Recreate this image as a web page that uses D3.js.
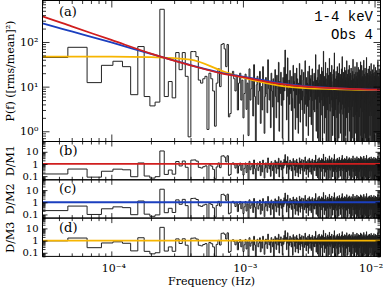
<!DOCTYPE html>
<html>
<head>
<meta charset="utf-8">
<script src="https://cdn.jsdelivr.net/npm/d3@7"></script>
<style>body{margin:0;background:#fff}</style>
</head>
<body>
<div class="container"></div>
<script>
// frequency resolution of the periodogram (Hz); first plotted bin is k = 2
const df = 1.87e-5;
const kStart = 2;

// periodogram, bins k = 2..54 (below 1e-3 Hz)
const powerLow = [45, 76, 12.3, 30, 37, 28, 6.6, 79, 6, 3.7, 4.5, 540, 6, 13, 5.6, 58, 24, 58, 17, 0.75,
  61, 61, 47, 14, 12, 15, 17, 1.1, 20, 15, 8, 1.3, 12, 25, 10, 88, 92, 70, 28, 88,
  2.1, 2.5, 18, 22, 15, 8, 18, 3, 12, 20, 5, 14, 2];
// bins k = 55..194
const powerMidA = [7, 19, 3.1, 12, 0.8, 25, 5, 9, 14, 2.2, 31, 6, 0.4, 11, 17, 4, 8, 22, 1.5, 10,
  3, 28, 13, 0.9, 6, 16, 7, 2.6, 40, 9, 5, 12, 1.2, 20, 8, 3.5, 15, 0.5, 11, 24,
  6, 2, 18, 9, 4.5, 35, 1, 13, 7, 21, 3.8, 10, 0.7, 16, 5, 27, 8, 66, 12, 19,
  1.8, 6, 44, 9, 0.3, 14, 4, 23, 7, 11, 2.9, 17, 5.5, 0.6, 30, 8, 13, 3.3, 20, 1.1,
  10, 6.5, 26, 2, 15, 9, 0.9, 12, 4.2, 33, 7, 1.6, 18, 11, 5, 24, 3, 8, 0.5, 14,
  21, 6, 2.5, 10, 38, 4, 9, 1.3, 16, 7, 12, 3.6, 22, 0.8, 11, 5, 29, 8, 2.1, 15,
  6, 18, 1.4, 10, 4.8, 25, 9, 0.4, 13, 7, 3, 20, 11, 2.7, 17, 5.2, 52, 8, 1, 14];
// bins k = 195..394
const powerMidB = [9, 3.2, 16, 0.7, 24, 6, 12, 0.4, 31, 8, 4.4, 14, 0.5, 19, 10, 2.3, 7, 27, 5, 11,
  0.3, 22, 8, 3.7, 62, 6, 13, 0.9, 17, 4, 9, 2, 35, 7, 15, 0.3, 11, 5.8, 20, 3,
  12, 26, 0.2, 8, 6, 18, 0.6, 10, 43, 4.1, 14, 2.8, 9, 21, 7, 0.4, 16, 5, 30, 11,
  3.4, 8, 0.8, 13, 19, 6, 2.2, 24, 9, 4.6, 57, 0.3, 12, 7, 15, 3, 10, 0.4, 22, 5.3,
  17, 8, 2, 11, 28, 6, 0.5, 14, 9, 3.9, 20, 0.7, 12, 7, 33, 4.5, 10, 2.5, 16, 5,
  0.9, 19, 8, 13, 3.1, 25, 6, 0.2, 11, 47, 9, 4, 15, 2.4, 7, 21, 0.5, 12, 5.6, 18,
  3.3, 10, 27, 0.3, 8, 14, 6, 0.8, 23, 9, 4.3, 16, 2, 11, 38, 5, 13, 0.5, 7, 19,
  0.6, 10, 3.5, 24, 8, 12, 2.6, 15, 6, 30, 1, 9, 17, 4.7, 11, 0.4, 20, 7, 13, 3,
  26, 5.1, 9, 0.2, 14, 8, 0.7, 18, 11, 3.6, 22, 6, 41, 2.1, 10, 15, 4.9, 8, 0.3, 12,
  19, 0.5, 7, 16, 3.2, 28, 9, 2.3, 13, 6, 0.9, 21, 10, 4.4, 17, 0.4, 11, 8, 35, 5];
// bins k = 395..594 (up to Nyquist)
const powerHigh = [8, 2.7, 15, 0.6, 21, 5, 11, 0.3, 27, 7, 3.8, 13, 0.4, 18, 9, 2.1, 6, 24, 4.6, 10,
  0.2, 19, 7, 3.3, 36, 5, 12, 0.8, 16, 3.6, 8, 0.4, 30, 6, 14, 0.3, 10, 5.2, 17, 2.7,
  11, 23, 0.3, 7, 5.5, 16, 0.5, 9, 39, 3.7, 13, 0.5, 8, 19, 6, 0.9, 14, 4.6, 26, 10,
  3.1, 7, 0.7, 12, 17, 5.4, 0.3, 21, 8, 4.1, 45, 0.2, 11, 6, 13, 2.7, 9, 0.4, 20, 4.8,
  15, 7, 0.4, 10, 25, 5.5, 0.4, 12, 8, 3.5, 18, 0.6, 11, 6, 29, 4, 9, 2.2, 14, 4.5,
  0.8, 17, 7, 12, 2.8, 22, 5.4, 0.3, 10, 33, 8, 3.6, 13, 2.2, 6, 19, 0.5, 11, 5, 16,
  3, 9, 24, 0.5, 7, 12, 5.3, 0.7, 20, 8, 3.9, 14, 0.4, 10, 31, 4.5, 12, 0.3, 6, 17,
  0.5, 9, 3.2, 21, 7, 11, 2.3, 13, 5.4, 27, 0.9, 8, 15, 4.2, 10, 0.4, 18, 6, 12, 2.7,
  23, 4.6, 8, 0.2, 12, 7, 0.6, 16, 10, 3.2, 20, 5.4, 37, 0.4, 9, 13, 4.4, 7, 0.2, 11,
  17, 0.5, 6, 14, 2.9, 25, 8, 0.3, 12, 5.5, 0.8, 19, 9, 3.9, 15, 0.3, 10, 7, 32, 4.5];

// model curves at these frequencies
const modelFreq = [2.5e-5, 3e-5, 5e-5, 1e-4, 2e-4, 4e-4, 7e-4, 1e-3, 1.5e-3, 2e-3, 3e-3, 5e-3, 1e-2, 1.2e-2];
const model1 = [440, 374, 223, 111, 55, 30, 19.6, 16.3, 13, 11.4, 10, 9.25, 8.56, 8.5];
const model2 = [300, 261, 172, 97.6, 54, 30.4, 20.1, 16.8, 13.6, 11.7, 10.3, 9.25, 8.56, 8.5];
const model3 = [47.2, 47.2, 47.2, 47.2, 46, 40.4, 22.3, 15.9, 12, 10.3, 9.25, 8.8, 8.35, 8.3];
const modelColors = ['#d01e1e', '#1b3fbf', '#f7b500'];
const ratioNames = ['D/M1', 'D/M2', 'D/M3'];
const panelTags = ['(a)', '(b)', '(c)', '(d)'];

const width = 385;
const height = 291;
const left = 42.5;
const right = 380.5;
const topA = 0.5;
const bottomA = 141.5;
const ratioH = 38.3;
const serif = '"DejaVu Serif", serif';

const power = powerLow.concat(powerMidA, powerMidB, powerHigh);
const freq = power.map((_, i) => (kStart + i) * df);
const edges = power.map((_, i) => (kStart + i - 0.5) * df)
  .concat([(kStart + power.length - 0.5) * df]);

const modelFn = (vals) => {
  const s = d3.scaleLog().domain(modelFreq).range(vals.map(Math.log10));
  return (f) => Math.pow(10, s(f));
};
const models = [model1, model2, model3].map(modelFn);

const x = d3.scaleLog().domain([3e-5, 0.0111]).range([left, right]);
const yA = d3.scaleLog().domain([0.59, 850]).range([bottomA, topA]);

const minorTicks = (lo, hi) => {
  const out = [];
  for (let e = -6; e <= 3; e++) {
    for (let m = 2; m <= 9; m++) {
      const v = m * Math.pow(10, e);
      if (v >= lo && v <= hi) out.push(v);
    }
  }
  return out;
};

const svg = d3.select('.container')
  .append('svg')
  .attr('width', width)
  .attr('height', height)
  .style('font-family', serif);

const xMajor = [1e-4, 1e-3, 1e-2];
const xMinor = minorTicks(3e-5, 0.0111);

function frameAxes(g, y, top, bottom, yMajor, yMinor, yFmt, majLen, minLen, fontSize) {
  const styleText = (sel) => sel.call((a) => a.select('.domain').remove())
    .attr('font-family', serif).attr('font-size', fontSize);
  g.append('g').attr('transform', `translate(${left},0)`)
    .call(d3.axisLeft(y).tickValues(yMajor).tickFormat(yFmt).tickSizeInner(-majLen).tickSizeOuter(0).tickPadding(4))
    .call(styleText);
  g.append('g').attr('transform', `translate(${left},0)`)
    .call(d3.axisLeft(y).tickValues(yMinor).tickFormat('').tickSizeInner(-minLen).tickSizeOuter(0))
    .call(styleText);
  g.append('g').attr('transform', `translate(${right},0)`)
    .call(d3.axisRight(y).tickValues(yMajor).tickFormat('').tickSizeInner(-majLen).tickSizeOuter(0))
    .call(styleText);
  g.append('g').attr('transform', `translate(${right},0)`)
    .call(d3.axisRight(y).tickValues(yMinor).tickFormat('').tickSizeInner(-minLen).tickSizeOuter(0))
    .call(styleText);
  [[top, d3.axisTop], [bottom, d3.axisBottom]].forEach(([yy, ax]) => {
    g.append('g').attr('transform', `translate(0,${yy})`)
      .call(ax(x).tickValues(xMajor).tickFormat('').tickSizeInner(-majLen).tickSizeOuter(0))
      .call(styleText);
    g.append('g').attr('transform', `translate(0,${yy})`)
      .call(ax(x).tickValues(xMinor).tickFormat('').tickSizeInner(-minLen).tickSizeOuter(0))
      .call(styleText);
  });
  g.selectAll('.tick line').attr('stroke', '#000').attr('stroke-width', 0.8);
  g.append('rect')
    .attr('x', left).attr('y', top)
    .attr('width', right - left).attr('height', bottom - top)
    .attr('fill', 'none').attr('stroke', '#000').attr('stroke-width', 1);
}

function clipFor(id, top, bottom) {
  svg.append('clipPath').attr('id', id)
    .append('rect').attr('x', left).attr('y', top)
    .attr('width', right - left).attr('height', bottom - top);
  return `url(#${id})`;
}

const stepLine = (y) => d3.line()
  .x((d) => x(d[0]))
  .y((d) => y(Math.max(d[1], 1e-3)))
  .curve(d3.curveStepAfter);

// ---- panel (a): periodogram and models
const pa = svg.append('g');
const plotA = pa.append('g').attr('clip-path', clipFor('clipA', topA, bottomA));
const stepsA = edges.map((e, i) => [e, power[Math.min(i, power.length - 1)]]);
plotA.append('path')
  .attr('d', stepLine(yA)(stepsA))
  .attr('fill', 'none').attr('stroke', '#222').attr('stroke-width', 1);

const curve = d3.line()
  .x((d) => x(d[0]))
  .y((d) => yA(d[1]))
  .curve(d3.curveMonotoneX);
[model3, model2, model1].forEach((vals, j) => {
  plotA.append('path')
    .attr('d', curve(modelFreq.map((f, i) => [f, vals[i]])))
    .attr('fill', 'none')
    .attr('stroke', modelColors[2 - j])
    .attr('stroke-width', 1.8);
});

const supA = { 1: '10\u2070', 10: '10\u00b9', 100: '10\u00b2' };
frameAxes(pa, yA, topA, bottomA, [1, 10, 100], minorTicks(0.59, 850), (d) => supA[d], 7, 3.5, 11);

pa.append('text').attr('x', 59).attr('y', 16).attr('font-size', 13).text(panelTags[0]);
pa.append('text').attr('x', 373).attr('y', 21).attr('text-anchor', 'end')
  .attr('font-family', '"Liberation Mono", monospace').attr('font-size', 14).text('1-4 keV');
pa.append('text').attr('x', 373).attr('y', 39).attr('text-anchor', 'end')
  .attr('font-family', '"Liberation Mono", monospace').attr('font-size', 14).text('Obs 4');
pa.append('text')
  .attr('transform', `translate(14,${(topA + bottomA) / 2}) rotate(-90)`)
  .attr('text-anchor', 'middle').attr('font-size', 11)
  .text('P(f) ([rms/mean]\u00b2)');

// ---- ratio panels (b)-(d)
const yRdomain = [0.05, 70];
const rFmt = (d) => (d === 0.1 ? '0.1' : String(d));
models.forEach((m, j) => {
  const top = bottomA + j * ratioH;
  const bottom = top + ratioH;
  const y = d3.scaleLog().domain(yRdomain).range([bottom, top]);
  const g = svg.append('g');
  const plot = g.append('g').attr('clip-path', clipFor(`clipR${j}`, top, bottom));
  const ratio = edges.map((e, i) => {
    const k = Math.min(i, power.length - 1);
    return [e, power[k] / m(freq[k])];
  });
  plot.append('path')
    .attr('d', stepLine(y)(ratio))
    .attr('fill', 'none').attr('stroke', '#222').attr('stroke-width', 1);
  plot.append('line')
    .attr('x1', left).attr('x2', right)
    .attr('y1', y(1)).attr('y2', y(1))
    .attr('stroke', modelColors[j]).attr('stroke-width', 1.8);
  frameAxes(g, y, top, bottom, [0.1, 1, 10], minorTicks(0.05, 70), rFmt, 5, 3, 10);
  g.append('text').attr('x', 59).attr('y', top + 13.5).attr('font-size', 13).text(panelTags[j + 1]);
  g.append('text')
    .attr('transform', `translate(14,${(top + bottom) / 2}) rotate(-90)`)
    .attr('text-anchor', 'middle').attr('font-size', 11)
    .text(ratioNames[j]);
});

// ---- bottom frequency axis labels
const bottomAll = bottomA + 3 * ratioH;
const supX = { 1e-4: '10\u207b\u2074', 1e-3: '10\u207b\u00b3', 1e-2: '10\u207b\u00b2' };
svg.append('g')
  .attr('transform', `translate(0,${bottomAll})`)
  .call(d3.axisBottom(x).tickValues(xMajor).tickFormat((d) => supX[d]).tickSize(0).tickPadding(8))
  .call((g) => g.select('.domain').remove())
  .attr('font-family', serif).attr('font-size', 11)
  .call((g) => g.selectAll('.tick text').attr('dx', (d) => (d === 1e-2 ? -4 : 2)));

svg.append('text')
  .attr('x', (left + right) / 2).attr('y', 285)
  .attr('text-anchor', 'middle').attr('font-size', 11)
  .text('Frequency (Hz)');
</script>
</body>
</html>
